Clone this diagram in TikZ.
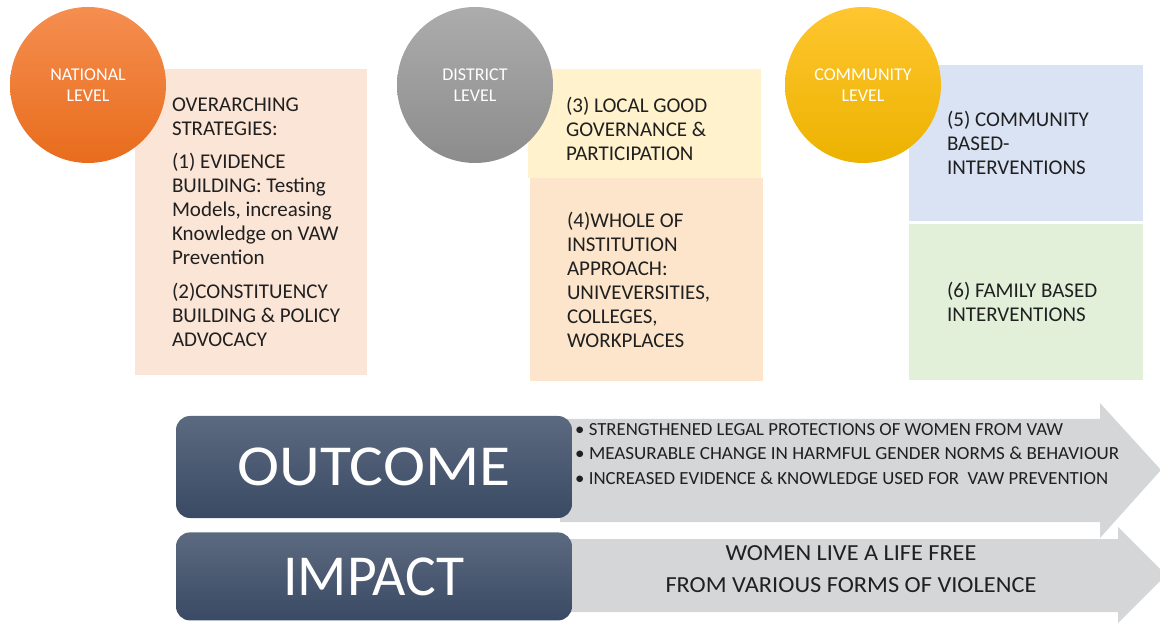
\documentclass[tikz,border=0pt]{standalone}
\usepackage{fontspec}
\setmainfont{Carlito}
\usetikzlibrary{shapes, arrows, positioning}
\definecolor{natTop}{RGB}{245,142,80}
\definecolor{natBot}{RGB}{232,108,28}
\definecolor{disTop}{RGB}{172,172,172}
\definecolor{disBot}{RGB}{140,140,140}
\definecolor{comTop}{RGB}{255,198,48}
\definecolor{comBot}{RGB}{236,178,0}
\definecolor{peach}{RGB}{251,229,214}
\definecolor{cream}{RGB}{255,242,204}
\definecolor{apricot}{RGB}{252,229,202}
\definecolor{paleBlue}{RGB}{218,227,243}
\definecolor{paleGreen}{RGB}{226,240,217}
\definecolor{bannerTop}{RGB}{92,106,128}
\definecolor{bannerBot}{RGB}{58,74,100}
\definecolor{flowGrey}{RGB}{212,214,216}
\definecolor{ink}{RGB}{32,32,32}
\newcommand\fitline[2]{\resizebox{#1}{\height}{#2}}
\tikzstyle{level} = [circle, minimum size=156pt, inner sep=0, text=white,
align=center, font=\fontsize{18}{20.5}\selectfont]
\tikzstyle{panel} = [rectangle, minimum width=233pt, inner sep=0]
\tikzstyle{paneltext} = [align=left, inner sep=0, text=ink,
font=\fontsize{21}{24}\selectfont]
\tikzstyle{banner} = [rectangle, rounded corners=14pt, minimum width=396pt,
top color=bannerTop, bottom color=bannerBot, text=white]
\tikzstyle{flow} = [fill=flowGrey]
\tikzstyle{flowtext} = [inner sep=0, text=ink]

\begin{document}
\begin{tikzpicture}[x=1pt, y=1pt, node distance=3cm]
    \useasboundingbox (0,0) rectangle (1160,622);
    % We start by placing the grey arrows behind the banners
    \fill[flow] (560,203) -- (1100,203) -- (1100,219) -- (1161,152)
        -- (1100,84) -- (1100,100) -- (560,100) -- cycle;
    \fill[flow] (560,83) -- (1118,83) -- (1118,95) -- (1166,47)
        -- (1118,-1) -- (1118,10) -- (560,10) -- cycle;

    % the three columns of boxes
    \node [panel, fill=peach, minimum width=232pt, minimum height=306pt] (natBox) at (251,400) {};
    \node [panel, fill=cream, minimum height=109pt] (govBox) at (644.5,498.5) {};
    \node [panel, fill=apricot, minimum height=203pt] (instBox) at (646.5,342.5) {};
    \node [panel, fill=paleBlue, minimum width=234pt, minimum height=156pt] (commBox) at (1026,479) {};
    \node [panel, fill=paleGreen, minimum width=234pt, minimum height=156pt, below=3pt of commBox] (famBox) {};

    % circles go on top of the boxes
    \node [level, top color=natTop, bottom color=natBot] (national) at (88,537) {NATIONAL\\LEVEL};
    \node [level, top color=disTop, bottom color=disBot] (district) at (475,537) {DISTRICT\\LEVEL};
    \node [level, top color=comTop, bottom color=comBot] (community) at (863,537) {COMMUNITY\\LEVEL};

    % texts of the boxes
    \node [paneltext, right=37pt of natBox.west] (natText) {OVERARCHING\\STRATEGIES:\\[9.5pt]
        (1) EVIDENCE\\BUILDING: Testing\\Models, increasing\\Knowledge on VAW\\Prevention\\[9.5pt]
        (2)CONSTITUENCY\\BUILDING \& POLICY\\ADVOCACY};
    \node [paneltext, right=38pt of govBox.west, yshift=-5pt] (govText) {(3) LOCAL GOOD\\GOVERNANCE \&\\PARTICIPATION};
    \node [paneltext, right=37pt of instBox.west] (instText) {(4)WHOLE OF\\INSTITUTION\\APPROACH:\\UNIVEVERSITIES,\\COLLEGES,\\WORKPLACES};
    \node [paneltext, right=38pt of commBox.west] (commText) {(5) COMMUNITY\\BASED-\\INTERVENTIONS};
    \node [paneltext, right=38pt of famBox.west, yshift=1pt] (famText) {(6) FAMILY BASED\\INTERVENTIONS};

    % Once the boxes are placed, the outcome and impact rows
    \node [banner, minimum height=102pt] (outcome) at (374,155)
        {\fitline{273pt}{\fontsize{58}{60}\selectfont OUTCOME}};
    \node [banner, minimum height=88pt, below=14pt of outcome] (impact)
        {\fitline{181pt}{\fontsize{58}{60}\selectfont IMPACT}};
    \node [flowtext, anchor=north west, align=left, font=\fontsize{18.5}{24.5}\selectfont]
        (outcomeList) at (575,199) {\fitline{488pt}{• STRENGTHENED LEGAL PROTECTIONS OF WOMEN FROM VAW}\\
        \fitline{544pt}{• MEASURABLE CHANGE IN HARMFUL GENDER NORMS \& BEHAVIOUR}\\
        \fitline{533pt}{• INCREASED EVIDENCE \& KNOWLEDGE USED FOR\ \ VAW PREVENTION}};
    \node [flowtext, align=center, font=\fontsize{23}{32}\selectfont] (impactText) at (851,53)
        {\fitline{251pt}{WOMEN LIVE A LIFE FREE}\\\fitline{371pt}{FROM VARIOUS FORMS OF VIOLENCE}};
\end{tikzpicture}
\end{document}
